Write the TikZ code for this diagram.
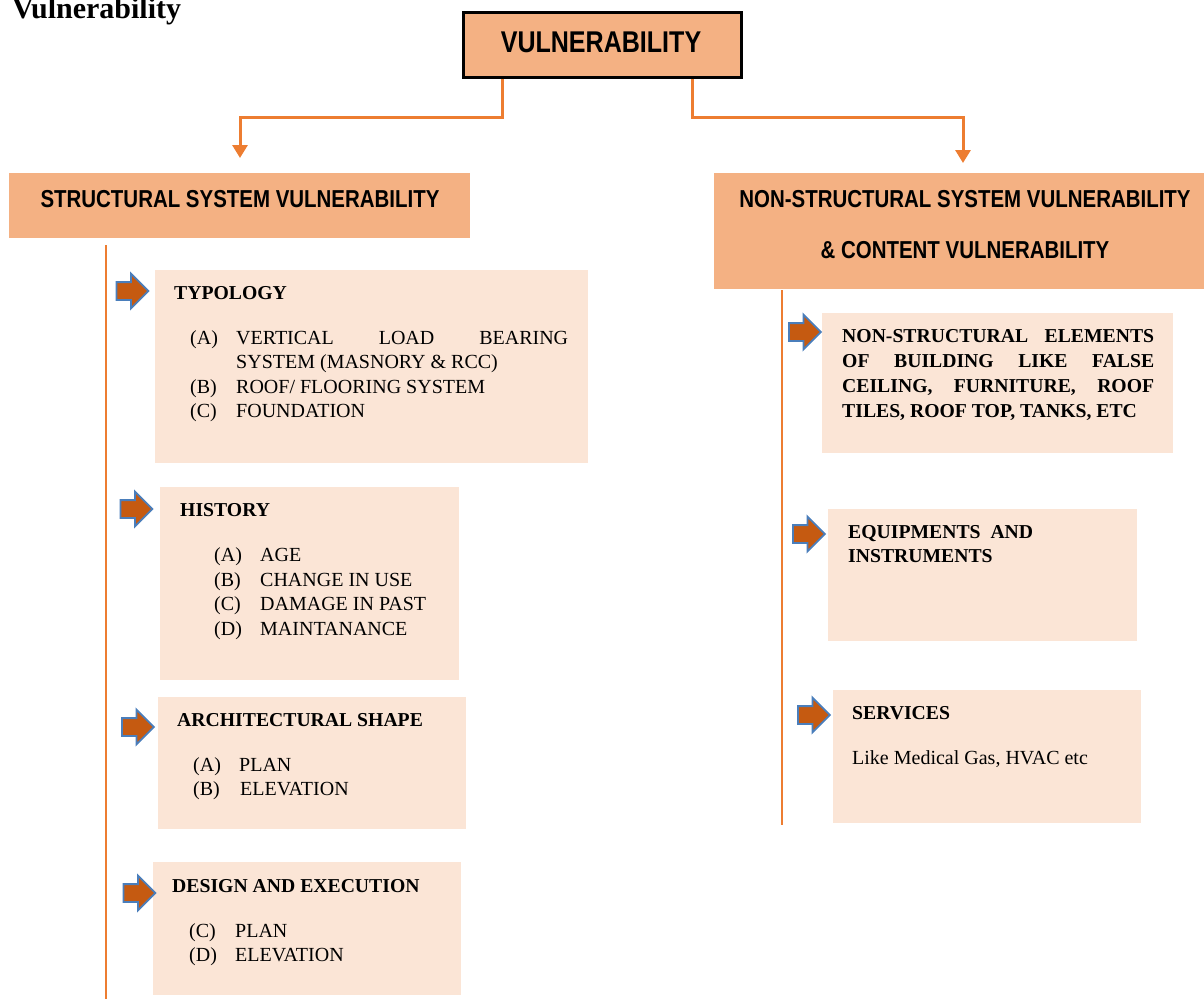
\documentclass[tikz,border=0pt]{standalone}
\usepackage{fontspec}
\setmainfont{Liberation Serif}
\newfontfamily\hdrfont[FakeStretch=0.835]{Liberation Sans}
\usetikzlibrary{shapes.arrows,arrows.meta}
\definecolor{hdrfill}{HTML}{F4B183}
\definecolor{lightfill}{HTML}{FBE5D6}
\definecolor{connor}{HTML}{ED7D31}
\definecolor{arrfill}{HTML}{C55A11}
\definecolor{arrblue}{HTML}{4A7EBB}
\begin{document}
\begin{tikzpicture}[x=1pt,y=-1pt,
  hdrbox/.style={fill=hdrfill, draw=none, anchor=north west, inner sep=0pt},
  lbox/.style={fill=lightfill, draw=none, anchor=north west, inner sep=0pt},
  conn/.style={draw=connor, line width=3pt},
  vline/.style={draw=connor, line width=2.5pt},
  pointer/.style={single arrow, draw=arrblue, fill=arrfill, line width=1.8pt,
    minimum height=32pt, single arrow head extend=8.5pt,
    inner xsep=0pt, inner ysep=8pt, anchor=center},
  txt/.style={font=\fontsize{20}{24.5}\selectfont, inner sep=0pt, anchor=base west},
  ttl/.style={font=\fontsize{19.7}{24.5}\selectfont\bfseries, inner sep=0pt, anchor=base west},
  hdr/.style={font=\hdrfont\bfseries\fontsize{24.5}{28}\selectfont, inner sep=0pt, anchor=base},
]
\useasboundingbox (0,0) rectangle (1204,999);

% page title
\node[font=\fontsize{30}{34}\selectfont\bfseries, inner sep=0pt, anchor=base west] (pagetitle) at (12,18.5) {Vulnerability};

% top box
\node[fill=hdrfill, draw=black, line width=3pt, anchor=north west, minimum width=278pt, minimum height=65pt, inner sep=0pt] (top) at (462,11) {};
\node[font=\hdrfont\bfseries\fontsize{30}{34}\selectfont, inner sep=0pt, anchor=base] (toptxt) at (601,52) {VULNERABILITY};

% headers
\node[hdrbox, minimum width=461pt, minimum height=65pt] (sbox) at (9,173) {};
\node[hdr] (stxt) at (240,207) {STRUCTURAL SYSTEM VULNERABILITY};
\node[hdrbox, minimum width=490pt, minimum height=116pt] (nbox) at (714,173) {};
\node[hdr] (ntxt1) at (965,207) {NON-STRUCTURAL SYSTEM VULNERABILITY};
\node[hdr] (ntxt2) at (965,258) {\& CONTENT VULNERABILITY};

% connectors
\coordinate (lx) at (502,0);
\coordinate (rx) at (692,0);
\coordinate (lk) at (240,117);
\coordinate (rk) at (963,117);
\coordinate (ltip) at (240,158);
\coordinate (rtip) at (963,163);
\draw[conn, -{Triangle[width=15pt,length=13pt]}] (top.south -| lx) |- (lk) -- (ltip);
\draw[conn, -{Triangle[width=15pt,length=13pt]}] (top.south -| rx) |- (rk) -- (rtip);

% vertical lines
\coordinate (lv1) at (106,245);
\coordinate (lv2) at (106,999);
\coordinate (rv1) at (782,290);
\coordinate (rv2) at (782,825);
\draw[vline] (lv1) -- (lv2);
\draw[vline] (rv1) -- (rv2);

% left boxes
\node[lbox, minimum width=433pt, minimum height=193pt] (typ) at (155,270) {};
\node[lbox, minimum width=299pt, minimum height=193pt] (his) at (160,487) {};
\node[lbox, minimum width=308pt, minimum height=132pt] (arc) at (158,697) {};
\node[lbox, minimum width=308pt, minimum height=133pt] (des) at (153,862) {};

% right boxes
\node[lbox, minimum width=351pt, minimum height=140pt] (nse) at (822,313) {};
\node[lbox, minimum width=309pt, minimum height=132pt] (equ) at (828,509) {};
\node[lbox, minimum width=308pt, minimum height=133pt] (ser) at (833,690) {};

% pointers
\node[pointer] (p1) at (128,291) {};
\node[pointer] (p2) at (132,509) {};
\node[pointer] (p3) at (133.5,727) {};
\node[pointer] (p4) at (135,893) {};
\node[pointer] (p5) at (800.5,332) {};
\node[pointer] (p6) at (804.5,534) {};
\node[pointer] (p7) at (809.5,715) {};

% typology text
\node[ttl] (t0) at (174,299) {TYPOLOGY};
\node[txt] (t1a) at (190,344) {(A)};
\node[txt] (t1b) at (236,344) {\makebox[332pt][s]{VERTICAL LOAD BEARING}};
\node[txt] (t1c) at (236,368.5) {SYSTEM (MASNORY \& RCC)};
\node[txt] (t2a) at (190,393) {(B)};
\node[txt] (t2b) at (236,393) {ROOF/ FLOORING SYSTEM};
\node[txt] (t3a) at (190,417.5) {(C)};
\node[txt] (t3b) at (236,417.5) {FOUNDATION};

% history text
\node[ttl] (h0) at (180,516.5) {HISTORY};
\node[txt] (h1a) at (214,561.5) {(A)};
\node[txt] (h1b) at (260,561.5) {AGE};
\node[txt] (h2a) at (214,586) {(B)};
\node[txt] (h2b) at (260,586) {CHANGE IN USE};
\node[txt] (h3a) at (214,610.5) {(C)};
\node[txt] (h3b) at (260,610.5) {DAMAGE IN PAST};
\node[txt] (h4a) at (214,635) {(D)};
\node[txt] (h4b) at (260,635) {MAINTANANCE};

% architectural shape text
\node[ttl] (a0) at (177,726) {ARCHITECTURAL SHAPE};
\node[txt] (a1a) at (193,771) {(A)};
\node[txt] (a1b) at (239,771) {PLAN};
\node[txt] (a2a) at (193,795.5) {(B)};
\node[txt] (a2b) at (240,795.5) {ELEVATION};

% design text
\node[ttl] (d0) at (172,892) {DESIGN AND EXECUTION};
\node[txt] (d1a) at (189,937) {(C)};
\node[txt] (d1b) at (235,937) {PLAN};
\node[txt] (d2a) at (189,961.5) {(D)};
\node[txt] (d2b) at (235,961.5) {ELEVATION};

% non-structural elements text
\node[ttl] (n1) at (842,342) {\makebox[312pt][s]{NON-STRUCTURAL ELEMENTS}};
\node[ttl] (n2) at (842,367) {\makebox[312pt][s]{OF BUILDING LIKE FALSE}};
\node[ttl] (n3) at (842,392) {\makebox[312pt][s]{CEILING, FURNITURE, ROOF}};
\node[ttl] (n4) at (842,417) {TILES, ROOF TOP, TANKS, ETC};

% equipment text
\node[ttl] (e1) at (848,538) {EQUIPMENTS\ \ AND};
\node[ttl] (e2) at (848,562.5) {INSTRUMENTS};

% services text
\node[ttl] (s1) at (852,719) {SERVICES};
\node[txt] (s2) at (852,764.5) {Like Medical Gas, HVAC etc};
\end{tikzpicture}
\end{document}
